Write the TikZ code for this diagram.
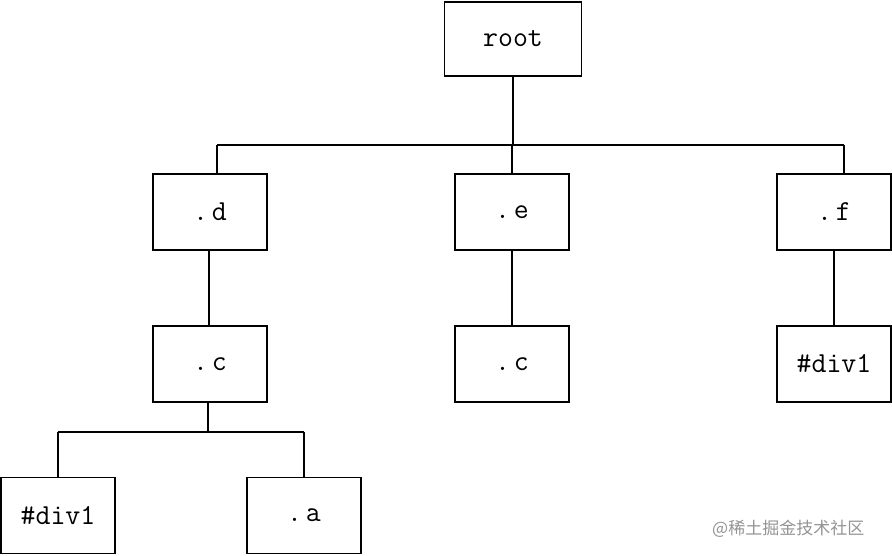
\documentclass[tikz,border=0pt]{standalone}
\usepackage{fontspec}
\newfontfamily\cjk{Noto Sans CJK SC}
\begin{document}
\begin{tikzpicture}[x=1pt,y=-1pt,
  treebox/.style={draw=black, line width=1.6pt, fill=white, inner sep=0pt,
    minimum width=114pt, minimum height=76pt,
    font=\ttfamily\fontsize{29}{34}\selectfont},
  edge/.style={line width=1.6pt, draw=black}]
\useasboundingbox[fill=white] (0,0) rectangle (892,556);
% nodes
\node[treebox, minimum width=137pt, minimum height=74pt] (root) at (513,39) {root};
\node[treebox] (d) at (210,212) {.\kern4pt d};
\node[treebox] (e) at (512,212) {.\kern4pt e};
\node[treebox] (f) at (834,212) {.\kern4pt f};
\node[treebox] (c1) at (210,364) {.\kern4pt c};
\node[treebox] (c2) at (512,364) {.\kern4pt c};
\node[treebox] (divr) at (834,364) {\#div1};
\node[treebox] (divl) at (58,515.5) {\#div1};
\node[treebox] (a) at (304,515.5) {.\kern4pt a};
% bus coordinates
\coordinate (busl) at (217,145);
\coordinate (busr) at (844,145);
\coordinate (bus2l) at (58,432);
\coordinate (bus2r) at (304,432);
\coordinate (c1drop) at (208,432);
% connectors
\draw[edge] (root.south) -- (root.south |- busl);
\draw[edge] (busl) -- (busr);
\draw[edge] (busl) -- (busl |- d.north);
\draw[edge] (e.north |- busl) -- (e.north);
\draw[edge] (busr) -- (busr |- f.north);
\draw[edge] ([xshift=-1pt]d.south) -- ([xshift=-1pt]c1.north);
\draw[edge] (e.south) -- (c2.north);
\draw[edge] (f.south) -- (divr.north);
\draw[edge] (c1drop |- c1.south) -- (c1drop);
\draw[edge] (bus2l) -- (bus2r);
\draw[edge] (bus2l) -- (divl.north);
\draw[edge] (bus2r) -- (a.north);
% watermark
\node[anchor=west, inner sep=0pt, text=black!42, font=\cjk\fontsize{17}{20}\selectfont] (wm) at (712,529) {@稀土掘金技术社区};
\end{tikzpicture}
\end{document}
